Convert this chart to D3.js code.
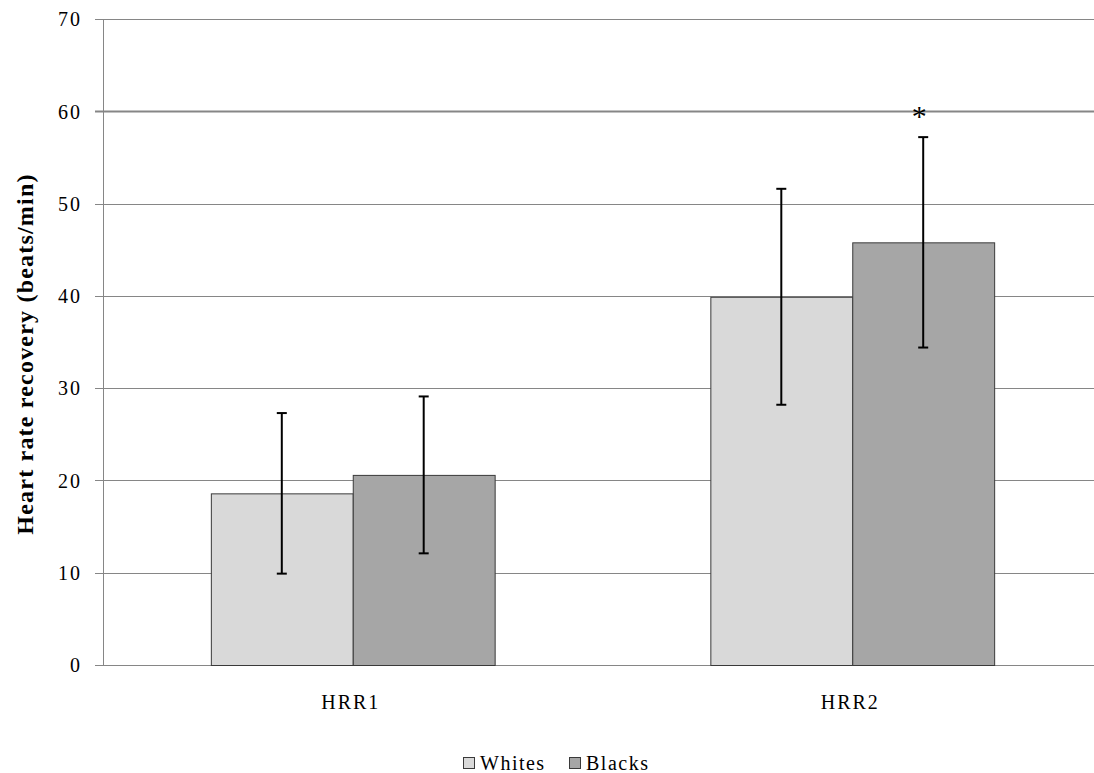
<!DOCTYPE html>
<html>
<head>
<meta charset="utf-8">
<script src="https://cdn.jsdelivr.net/npm/d3@7"></script>
<style>
  body { margin: 0; background: #fff; }
  svg { display: block; font-family: "Liberation Serif", "Times New Roman", serif; }
</style>
</head>
<body>
<div id="chart"></div>
<script>
// data
const categories = ["HRR1", "HRR2"]
const groups = ["Whites", "Blacks"]
const whites = [18.6, 39.9]
const blacks = [20.6, 45.8]
const whitesSd = [8.7, 11.7]
const blacksSd = [8.5, 11.4]
const yTicks = [0, 10, 20, 30, 40, 50, 60, 70]
const starred = [{ cat: "HRR2", group: "Blacks", text: "*" }]

const colors = { Whites: "#d9d9d9", Blacks: "#a6a6a6" }

const w = 1094
const h = 773
const m = { left: 103, right: -8, top: 19, bottom: 108 }

const svg = d3.select("#chart").append("svg")
    .attr("width", w)
    .attr("height", h)

const x = d3.scaleBand()
    .domain(categories)
    .range([m.left, w - m.right])
    .paddingInner(0)
    .paddingOuter(0)

const xs = d3.scaleBand()
    .domain(groups)
    .range([0, x.bandwidth()])
    .paddingOuter(0.76)
    .paddingInner(0)

const y = d3.scaleLinear()
    .domain([0, 70])
    .range([h - m.bottom, m.top])

// gridlines
svg.append("g")
    .selectAll("line")
    .data(yTicks)
    .enter().append("line")
    .attr("x1", m.left - 8)
    .attr("x2", w - m.right)
    .attr("y1", d => Math.round(y(d)) + 0.5)
    .attr("y2", d => Math.round(y(d)) + 0.5)
    .style("stroke", "#868686")
    .style("stroke-width", d => d === 60 ? 2 : 1)

// y axis line + labels
const yAxis = svg.append("g")
    .attr("transform", `translate(${m.left - 80},0)`)
    .call(d3.axisLeft(y).tickValues(yTicks).tickSize(0).tickPadding(0))
yAxis.select(".domain").remove()
yAxis.selectAll("text")
    .attr("x", 80 - 21)
    .attr("text-anchor", "end")
    .attr("dy", "0.34em")
    .style("font-family", "Liberation Serif")
    .style("font-size", "20px")
    .style("letter-spacing", "2px")
    .style("fill", "#000")

svg.append("line")
    .attr("x1", m.left + 0.5).attr("x2", m.left + 0.5)
    .attr("y1", y(70)).attr("y2", y(0))
    .style("stroke", "#868686")

// bars
const rows = categories.map((c, i) => [
    { cat: c, group: "Whites", value: whites[i], sd: whitesSd[i] },
    { cat: c, group: "Blacks", value: blacks[i], sd: blacksSd[i] }
])

const cat = svg.selectAll(".cat")
    .data(rows)
    .enter().append("g")
    .attr("class", "cat")
    .attr("transform", d => `translate(${x(d[0].cat)},0)`)

cat.selectAll("rect")
    .data(d => d)
    .enter().append("rect")
    .attr("x", d => xs(d.group) + 0.5)
    .attr("y", d => y(d.value) + 0.5)
    .attr("width", xs.bandwidth())
    .attr("height", d => y(0) - y(d.value))
    .style("fill", d => colors[d.group])
    .style("stroke", "#3a3a3a")
    .style("stroke-width", 1)

// error bars
const err = cat.selectAll(".err")
    .data(d => d)
    .enter().append("g")
    .attr("class", "err")
    .attr("transform", d => `translate(${xs(d.group) + xs.bandwidth() / 2},0)`)

err.append("line")
    .attr("y1", d => y(d.value + d.sd))
    .attr("y2", d => y(d.value - d.sd))
    .style("stroke", "#000").style("stroke-width", 2)
err.append("line")
    .attr("x1", -5).attr("x2", 5)
    .attr("y1", d => y(d.value + d.sd)).attr("y2", d => y(d.value + d.sd))
    .style("stroke", "#000").style("stroke-width", 2)
err.append("line")
    .attr("x1", -5).attr("x2", 5)
    .attr("y1", d => y(d.value - d.sd)).attr("y2", d => y(d.value - d.sd))
    .style("stroke", "#000").style("stroke-width", 2)

// significance star
starred.forEach(s => {
    svg.append("text")
        .attr("x", x(s.cat) + xs(s.group) + xs.bandwidth() / 2 - 4)
        .attr("y", 126)
        .attr("text-anchor", "middle")
        .style("font-size", "30px")
        .text(s.text)
})

// category labels
svg.selectAll(".catlabel")
    .data(categories)
    .enter().append("text")
    .attr("class", "catlabel")
    .attr("x", d => x(d) + x.bandwidth() / 2 - 2)
    .attr("y", 709)
    .attr("text-anchor", "middle")
    .style("font-size", "20px")
    .style("letter-spacing", "2px")
    .text(d => d)

// y title
svg.append("text")
    .attr("transform", "translate(33,354) rotate(-90)")
    .attr("text-anchor", "middle")
    .style("font-size", "24px")
    .style("font-weight", "bold")
    .style("letter-spacing", "1.2px")
    .text("Heart rate recovery (beats/min)")

// legend
const legendX = [463, 569]
const lg = svg.selectAll(".lg")
    .data(groups)
    .enter().append("g")
    .attr("class", "lg")
    .attr("transform", (d, i) => `translate(${legendX[i]},757)`)
lg.append("rect")
    .attr("x", 0.5).attr("y", 0.5)
    .attr("width", 11).attr("height", 11)
    .style("fill", d => colors[d])
    .style("stroke", "#3a3a3a")
lg.append("text")
    .attr("x", 17)
    .attr("y", 13)
    .style("font-size", "20px")
    .style("letter-spacing", "1.5px")
    .text(d => d)
</script>
</body>
</html>
